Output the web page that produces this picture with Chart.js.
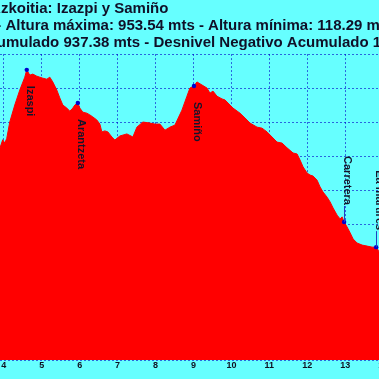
<!DOCTYPE html>
<html><head><meta charset="utf-8">
<script src="https://cdn.jsdelivr.net/npm/chart.js@4"></script>
<style>
html,body{margin:0;padding:0;background:#66ffff;overflow:hidden;width:379px;height:379px;}
#wrap{position:absolute;left:-190px;top:0;width:711px;height:379px;}
</style></head><body>
<div id="wrap"><canvas id="c" width="711" height="379"></canvas></div>
<script>
const titleText = "Perfil de la ruta circular - Azkoitia: Izazpi y Samiño";
const subtitleLines = [
  "16.50 Kms. - Altura máxima: 953.54 mts - Altura mínima: 118.29 mts",
  "Desnivel Positivo Acumulado 937.38 mts - Desnivel Negativo Acumulado 1022.50 mts"
];
const distanceKm = [3.87,3.894,3.973,4.026,4.079,4.158,4.290,4.422,4.554,4.606,4.686,4.765,4.870,4.949,5.029,5.134,5.213,5.292,5.398,5.477,5.556,5.662,5.741,5.820,5.873,5.952,6.005,6.084,6.190,6.269,6.348,6.453,6.533,6.585,6.664,6.744,6.849,6.928,7.060,7.245,7.403,7.509,7.667,7.852,7.984,8.116,8.248,8.380,8.511,8.696,8.828,8.907,9.013,9.092,9.224,9.356,9.435,9.514,9.620,9.752,9.831,9.910,10.042,10.227,10.358,10.490,10.675,10.807,10.939,11.071,11.203,11.335,11.467,11.625,11.731,11.810,11.889,11.994,12.073,12.153,12.258,12.337,12.416,12.522,12.601,12.680,12.786,12.865,12.918,12.970,13.050,13.129,13.208,13.314,13.446,13.578,13.709,13.815,13.894,13.93];
const altitudeM = [722,722,748,738,752,800,850,894,932,953.5,938,941,935,932,929,926,932,918,894,871,850,841,832,841,850,856,841,829,826,821,815,806,794,771,774,771,756,747,759,765,756,785,800,797,794,794,776,785,791,835,876,900,906,918,909,900,885,891,876,868,865,856,841,826,812,797,785,782,771,756,741,738,724,709,706,688,668,650,644,641,629,609,594,579,565,547,526,515,521,506,491,474,456,444,438,435,432,432,418,410];
const waypointNames = ["Izaspi","Arantzeta","Samiño","Carretera","Ea martires"];
const waypointKm = [4.606,5.952,9.013,12.970,13.815];
const waypointAlt = [953.5,856,906,506,432];
const xAxisMin = 0, xAxisMax = 17, xStep = 1;
const yAxisMin = 100, yAxisMax = 1000, yStep = 100;

const FONT = '"Liberation Sans", Arial, sans-serif';
const bgPlugin = {
  id:'bg',
  beforeDraw(chart){
    const c = chart.ctx; c.save(); c.fillStyle = '#66ffff';
    c.fillRect(0,0,chart.width,chart.height); c.restore();
  }
};
const labelPlugin = {
  id:'waypointLabels',
  afterDraw(chart){
    const meta = chart.getDatasetMeta(0);
    const ctx = chart.ctx;
    ctx.save();
    ctx.font = 'bold 11px ' + FONT;
    ctx.fillStyle = '#14142a';
    ctx.textBaseline = 'middle';
    ctx.textAlign = 'left';
    meta.data.forEach((pt,i)=>{
      const name = waypointNames[i];
      const w = ctx.measureText(name).width;
      let top;
      if (waypointAlt[i] < 600) {
        top = pt.y - 17 - w;
        ctx.strokeStyle = '#2040c0'; ctx.lineWidth = 1;
        ctx.beginPath(); ctx.moveTo(Math.round(pt.x)+0.5, top + w + 1); ctx.lineTo(Math.round(pt.x)+0.5, pt.y); ctx.stroke();
      } else {
        top = pt.y + 16;
      }
      ctx.save(); ctx.translate(pt.x + 3, top); ctx.rotate(Math.PI/2);
      ctx.fillText(name, 0, 0); ctx.restore();
    });
    ctx.restore();
  }
};

const gridStyle = { color: 'rgba(0,0,200,0.6)', lineWidth: 1, drawTicks: false };
new Chart(document.getElementById('c'), {
  type: 'line',
  data: {
    datasets: [
      { data: waypointKm.map((x,i)=>({x, y: waypointAlt[i]})), showLine:false, pointRadius:2.2,
        pointBackgroundColor:'#0000cc', pointBorderColor:'#0000cc', borderWidth:0, order:0 },
      { data: distanceKm.map((x,i)=>({x, y: altitudeM[i]})), borderColor:'#ff0000', backgroundColor:'#ff0000',
        borderWidth:1, pointRadius:0, fill:'start', tension:0, order:1 }
    ]
  },
  options: {
    responsive:false, animation:false, devicePixelRatio:1,
    layout:{ padding:{ left:0, right:24, top:0, bottom:0 } },
    plugins:{
      legend:{display:false}, tooltip:{enabled:false},
      title:{ display:true, text:titleText, align:'start', color:'#101028', padding:{top:0,bottom:0},
        font:{ family:FONT, size:15, weight:'bold', lineHeight:1.15 } },
      subtitle:{ display:true, text:subtitleLines, color:'#101028', padding:{top:0,bottom:2.3},
        font:{ family:FONT, size:15, weight:'bold', lineHeight:1.15 } }
    },
    scales:{
      x:{ type:'linear', min:xAxisMin, max:xAxisMax, z:1,
        grid:{ ...gridStyle }, border:{ display:false, dash:[2,2] },
        ticks:{ stepSize:xStep, padding:0, color:'#101020', font:{ family:FONT, size:9, weight:'bold' } },
        afterFit(s){ s.height = 19; } },
      y:{ min:yAxisMin, max:yAxisMax, z:1,
        grid:{ ...gridStyle }, border:{ display:false, dash:[2,2] },
        ticks:{ stepSize:yStep, padding:3, color:'#101020', font:{ family:FONT, size:9, weight:'bold' } },
        afterFit(s){ s.width = 42; } }
    }
  },
  plugins:[bgPlugin, labelPlugin]
});
</script>
</body></html>
